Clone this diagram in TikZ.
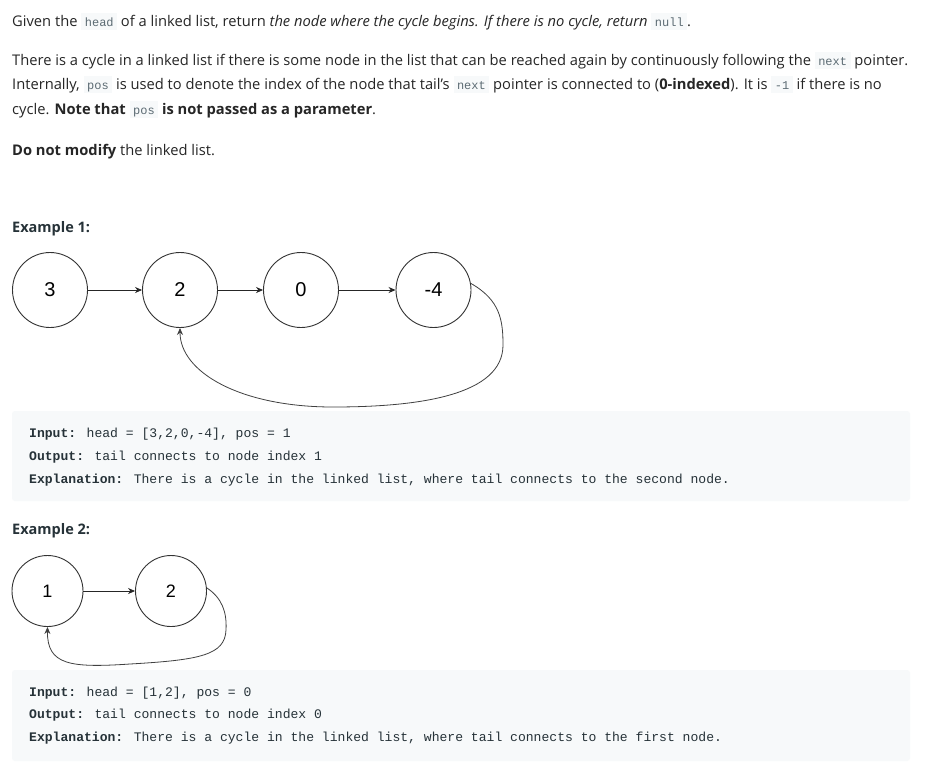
\documentclass[tikz,border=0pt]{standalone}
\usepackage{fontspec}
\setmainfont{Open Sans}
\newfontfamily\codefont{Liberation Mono}
\newfontfamily\nodefont{Liberation Sans}
\usetikzlibrary{arrows.meta}
\definecolor{textc}{HTML}{262626}
\definecolor{headc}{HTML}{263238}
\definecolor{codebg}{HTML}{F7F9FA}
\definecolor{icodec}{HTML}{5C6B73}
\definecolor{linec}{HTML}{333333}
\newcommand{\icode}[1]{{\setlength{\fboxsep}{0pt}\colorbox{codebg}{\rule[-4pt]{0pt}{17.5pt}\hspace{3.5pt}{\codefont\fontsize{12}{14}\selectfont\color{icodec}#1}\hspace{3.5pt}}}}
\tikzset{
  para/.style={anchor=base west, inner sep=0pt, text=textc, font=\fontsize{14.7}{17}\selectfont},
  exhead/.style={anchor=base west, inner sep=0pt, text=headc, font=\fontsize{14.5}{17}\selectfont\bfseries},
  codeline/.style={anchor=base west, inner sep=0pt, text=headc, font=\codefont\fontsize{13.07}{16}\selectfont},
  codeblock/.style={fill=codebg, draw=none, rounded corners=3pt},
  lnode/.style={circle, draw=linec, line width=0.9pt, minimum size=75pt, inner sep=0pt, font=\nodefont\fontsize{20}{24}\selectfont, text=black},
  snode/.style={circle, draw=linec, line width=0.9pt, minimum size=71pt, inner sep=0pt, font=\nodefont\fontsize{18}{22}\selectfont, text=black},
  link/.style={draw=black!85, line width=0.8pt, -{Stealth[length=7pt,width=6pt]}},
  back/.style={draw=black!75, line width=0.8pt, -{Stealth[length=7pt,width=6pt]}}
}
\begin{document}
\begin{tikzpicture}[x=1pt,y=-1pt]
\useasboundingbox[fill=white] (0,0) rectangle (925,769);
% paragraph text
\node[para] (l1) at (12,26) {Given the \icode{head} of a linked list, return \textit{the node where the cycle begins. If there is no cycle, return} \icode{null}.};
\node[para] (l2) at (12,65) {There is a cycle in a linked list if there is some node in the list that can be reached again by continuously following the \icode{next} pointer.};
\node[para] (l3) at (12,89) {Internally, \icode{pos} is used to denote the index of the node that tail's \icode{next} pointer is connected to (\textbf{0-indexed}). It is \icode{-1} if there is no};
\node[para] (l4) at (12,114) {cycle. \textbf{Note that} \icode{pos} \textbf{is not passed as a parameter}.};
\node[para] (l5) at (12,155) {\textbf{Do not modify} the linked list.};
% example 1
\node[exhead] (e1) at (12,232) {Example 1:};
\node[lnode] (a) at (50,290) {3};
\node[lnode] (b) at (180,290) {2};
\node[lnode] (c) at (301,290) {0};
\node[lnode] (d) at (433.5,290) {-4};
\draw[link] (a) -- (b);
\draw[link] (b) -- (c);
\draw[link] (c) -- (d);
\draw[back] (d.10) .. controls (500,300) and (503,320) .. (503,345)
  .. controls (503,395) and (420,407) .. (333,407)
  .. controls (240,407) and (180,372) .. (b.south);
\path[codeblock] (12,411) rectangle (910,501);
\node[codeline] (i1) at (29,437) {\textbf{Input:} head = [3,2,0,-4], pos = 1};
\node[codeline] (o1) at (29,460) {\textbf{Output:} tail connects to node index 1};
\node[codeline] (x1) at (29,483) {\textbf{Explanation:} There is a cycle in the linked list, where tail connects to the second node.};
% example 2
\node[exhead] (e2) at (12,534) {Example 2:};
\node[snode] (p) at (47.5,591) {1};
\node[snode] (q) at (171,591) {2};
\draw[link] (p) -- (q);
\draw[back] (q.5) .. controls (222,598) and (227,612) .. (226,630)
  .. controls (225,655) and (200,660) .. (130,664)
  .. controls (70,668) and (47,665) .. (p.south);
\path[codeblock] (12,670) rectangle (910,761);
\node[codeline] (i2) at (29,696) {\textbf{Input:} head = [1,2], pos = 0};
\node[codeline] (o2) at (29,718) {\textbf{Output:} tail connects to node index 0};
\node[codeline] (x2) at (29,741) {\textbf{Explanation:} There is a cycle in the linked list, where tail connects to the first node.};
\end{tikzpicture}
\end{document}
